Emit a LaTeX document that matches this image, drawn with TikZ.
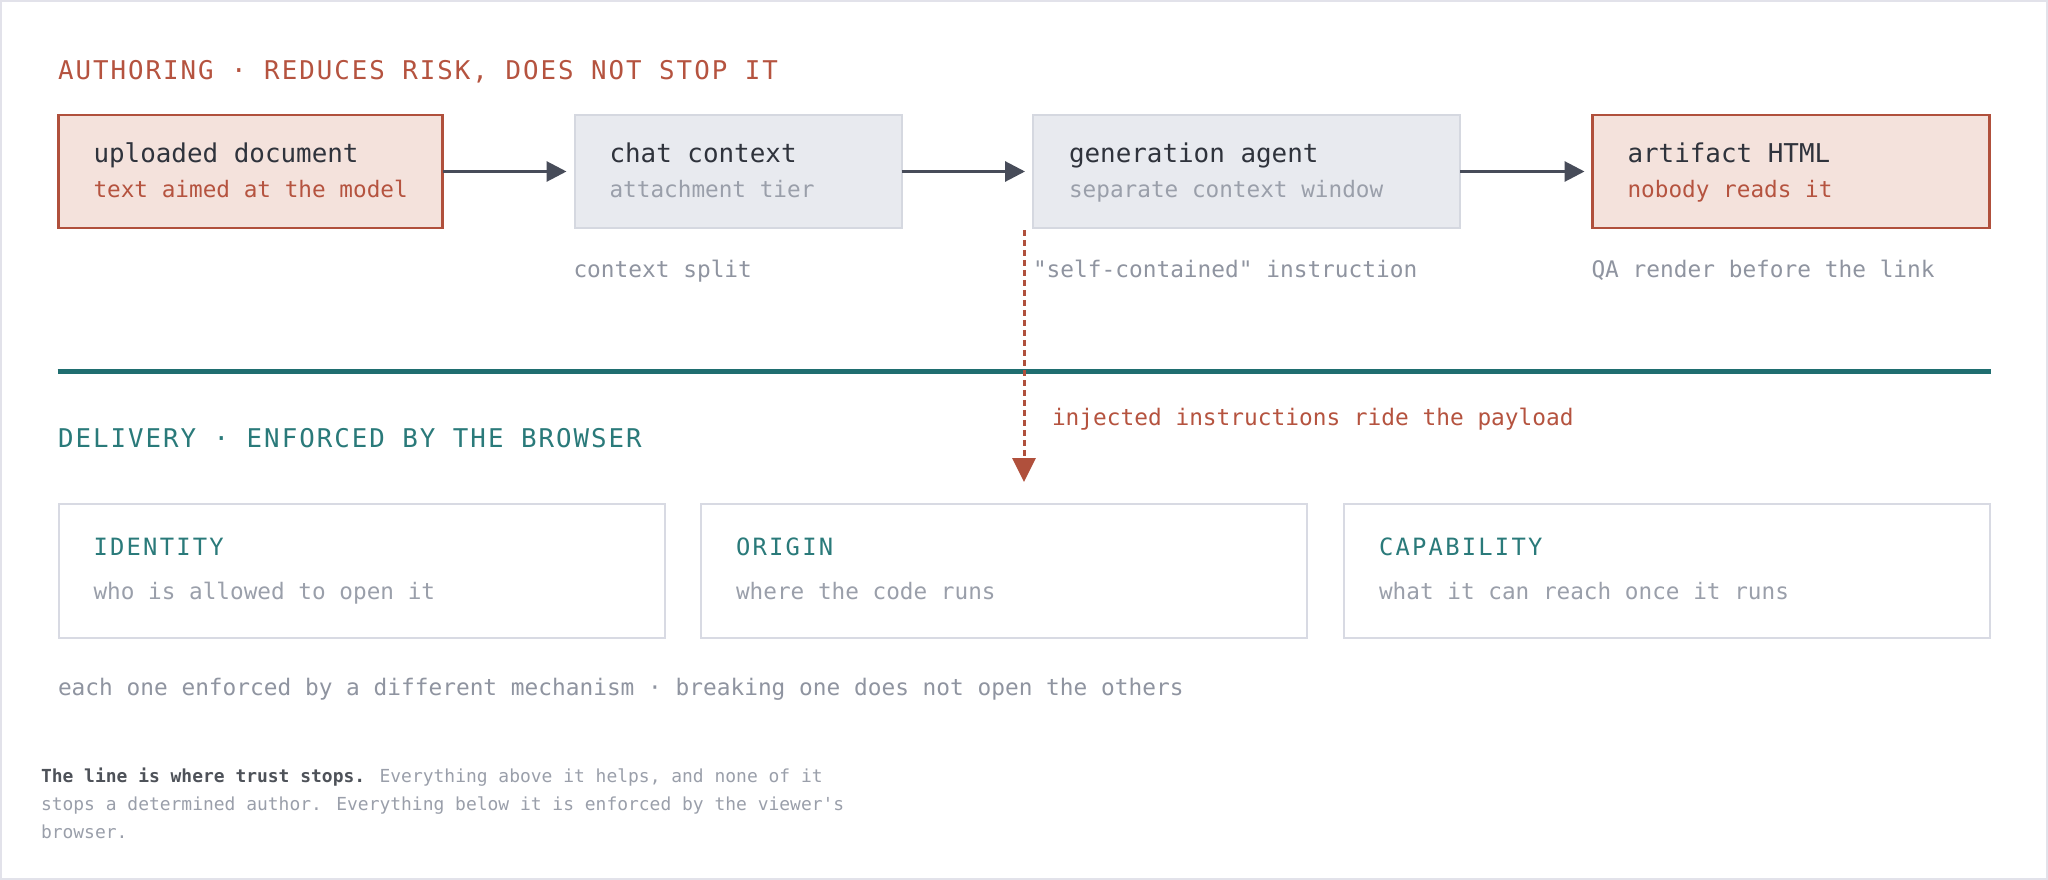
\documentclass[tikz,border=0pt]{standalone}
\usepackage{fontspec}
\setmonofont{DejaVu Sans Mono}
\newfontfamily\mono{DejaVu Sans Mono}
\newfontfamily\monohead[LetterSpace=7.7]{DejaVu Sans Mono}
\newfontfamily\monotitle[LetterSpace=9.4]{DejaVu Sans Mono}
\usetikzlibrary{arrows.meta}
\definecolor{rust}{HTML}{B0503C}
\definecolor{rusttext}{HTML}{B5533F}
\definecolor{pinkfill}{HTML}{F4E2DC}
\definecolor{grayfill}{HTML}{E8EAEF}
\definecolor{grayline}{HTML}{D5D8E0}
\definecolor{lightline}{HTML}{D8DAE3}
\definecolor{arrowdark}{HTML}{474C59}
\definecolor{teal}{HTML}{1F6E70}
\definecolor{tealtext}{HTML}{2A7A7A}
\definecolor{graytext}{HTML}{8F94A0}
\definecolor{subgray}{HTML}{9A9FAA}
\definecolor{darktext}{HTML}{2F333C}
\definecolor{frame}{HTML}{E2E2EA}
\tikzset{
  txt/.style={inner sep=0pt, outer sep=0pt, anchor=base west},
  pinkbox/.style={draw=rust, line width=2.5pt, fill=pinkfill, inner sep=0pt, outer sep=0pt, anchor=north west},
  graybox/.style={draw=grayline, line width=2pt, fill=grayfill, inner sep=0pt, outer sep=0pt, anchor=north west},
  whitebox/.style={draw=lightline, line width=2pt, fill=white, inner sep=0pt, outer sep=0pt, anchor=north west},
  head/.style={txt, font=\fontsize{25.8}{30}\selectfont\monohead},
  lbl/.style={txt, text=darktext, font=\fontsize{25.9}{30}\selectfont\mono},
  sub/.style={txt, font=\fontsize{22.7}{28}\selectfont\mono},
  note/.style={txt, text=graytext, font=\fontsize{22.8}{28}\selectfont\mono},
  ttl/.style={txt, text=tealtext, font=\fontsize{23.8}{28}\selectfont\monotitle},
  flow/.style={draw=arrowdark, line width=3pt, -{Triangle[length=20pt,width=20pt]}, shorten >=8pt},
  inject/.style={draw=rust, line width=3pt, dash pattern=on 6pt off 4pt, -{Triangle[length=24pt,width=23pt]}},
  foot/.style={txt, text=subgray, font=\fontsize{17.95}{28}\selectfont\mono},
}
\begin{document}
\begin{tikzpicture}[x=1pt,y=-1pt]
\useasboundingbox (0,0) rectangle (2048,880);
\fill[white] (0,0) rectangle (2048,880);
\draw[frame, line width=2pt] (1,1) rectangle (2046.5,878.5);

% header
\node[head, text=rusttext] (hA) at (58,80) {AUTHORING · REDUCES RISK, DOES NOT STOP IT};

% top boxes
\node[pinkbox, minimum width=384pt, minimum height=113pt] (b1) at (58.5,115) {};
\node[graybox, minimum width=327pt, minimum height=113pt] (b2) at (574.5,115) {};
\node[graybox, minimum width=427pt, minimum height=113pt] (b3) at (1033,115) {};
\node[pinkbox, minimum width=397pt, minimum height=113pt] (b4) at (1592.5,115) {};

\node[lbl] (b1t) at (93.5,162) {uploaded document};
\node[sub, text=rusttext] (b1s) at (93.5,197) {text aimed at the model};
\node[lbl] (b2t) at (609.5,162) {chat context};
\node[sub, text=subgray] (b2s) at (609.5,197) {attachment tier};
\node[lbl] (b3t) at (1069,162) {generation agent};
\node[sub, text=subgray] (b3s) at (1069,197) {separate context window};
\node[lbl] (b4t) at (1627.5,162) {artifact HTML};
\node[sub, text=rusttext] (b4s) at (1627.5,197) {nobody reads it};

\draw[flow] (b1.east) -- (b2.west);
\draw[flow] (b2.east) -- (b3.west);
\draw[flow] (b3.east) -- (b4.west);

% annotations
\node[note] (n2) at (573.5,277) {context split};
\node[note] (n3) at (1033,277) {"self-contained" instruction};
\node[note] (n4) at (1591.5,277) {QA render before the link};

% trust line
\coordinate (lineL) at (57.5,371.7);
\coordinate (lineR) at (1990.6,371.7);
\draw[teal, line width=5pt] (lineL) -- (lineR);

% injected arrow
\coordinate (injS) at (1024,230);
\coordinate (injE) at (1024,482);
\draw[inject] (injS) -- (injE);
\node[note, text=rusttext] (injT) at (1052,425) {injected instructions ride the payload};

% delivery header
\node[head, text=tealtext] (hD) at (58,447) {DELIVERY · ENFORCED BY THE BROWSER};

% bottom boxes
\node[whitebox, minimum width=606.5pt, minimum height=134.5pt] (c1) at (58.5,503.7) {};
\node[whitebox, minimum width=606pt, minimum height=134.5pt] (c2) at (701,503.7) {};
\node[whitebox, minimum width=645.6pt, minimum height=134.5pt] (c3) at (1344,503.7) {};

\node[ttl] (c1t) at (93.5,555) {IDENTITY};
\node[sub, text=subgray] (c1s) at (93.5,599) {who is allowed to open it};
\node[ttl] (c2t) at (736,555) {ORIGIN};
\node[sub, text=subgray] (c2s) at (736,599) {where the code runs};
\node[ttl] (c3t) at (1379,555) {CAPABILITY};
\node[sub, text=subgray] (c3s) at (1379,599) {what it can reach once it runs};

\node[note] (each) at (58,695) {each one enforced by a different mechanism · breaking one does not open the others};

% footnote
\node[foot] (f1) at (41,782.5) {{\bfseries\color{darktext!85}The line is where trust stops.} Everything above it helps, and none of it};
\node[foot] (f2) at (41,810.5) {stops a determined author. Everything below it is enforced by the viewer's};
\node[foot] (f3) at (41,838.5) {browser.};
\end{tikzpicture}
\end{document}
